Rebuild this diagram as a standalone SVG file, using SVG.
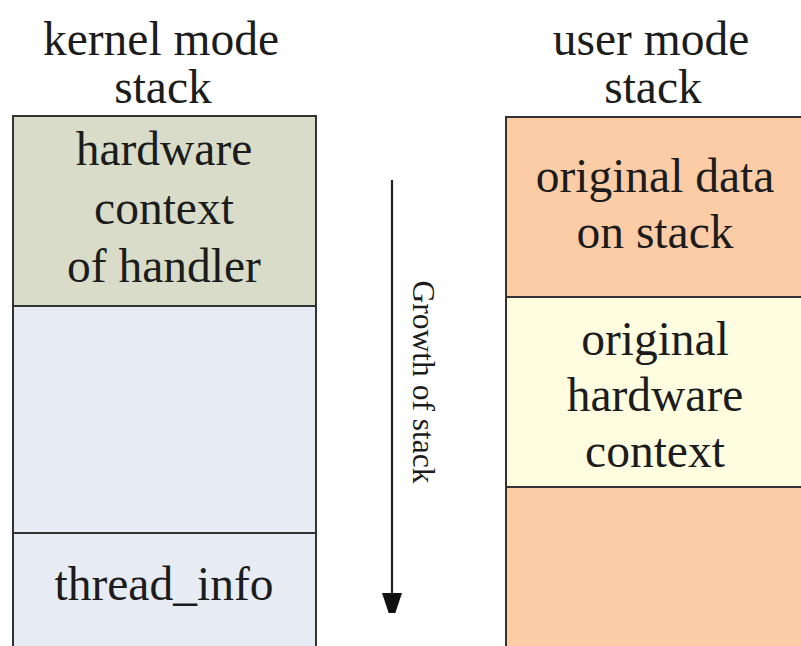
<svg xmlns="http://www.w3.org/2000/svg" width="801" height="646" viewBox="0 0 801 646">
  <style>
    .t { font-family: "Liberation Serif", "Times New Roman", serif; font-size: 47.5px; fill: #1c1c1c; text-anchor: middle; }
    .lbl { font-family: "Liberation Serif", "Times New Roman", serif; font-size: 31.5px; fill: #1c1c1c; text-anchor: middle; }
    .box { stroke: #333; stroke-width: 2; }
  </style>
  <defs>
    <marker id="arrowHead" markerUnits="userSpaceOnUse" markerWidth="20" markerHeight="30" refX="20" refY="10" orient="auto">
      <path d="M0,0 L30,10 L0,20 Z" fill="#111"/>
    </marker>
  </defs>
  <rect width="801" height="646" fill="#fff"/>

  <!-- column titles -->
  <g id="kernel-title">
    <text class="t" x="161" y="55">kernel mode</text>
    <text class="t" x="163" y="103">stack</text>
  </g>
  <g id="user-title">
    <text class="t" x="651" y="55">user mode</text>
    <text class="t" x="653" y="103">stack</text>
  </g>

  <!-- kernel mode stack -->
  <g id="hw-context-handler">
    <rect class="box" x="13" y="116" width="303" height="190" fill="#d8dcc9"/>
    <text class="t" x="164" y="165">hardware</text>
    <text class="t" x="164" y="224">context</text>
    <text class="t" x="164" y="282">of handler</text>
  </g>
  <g id="kernel-free">
    <rect class="box" x="13" y="306" width="303" height="227" fill="#e6ebf4"/>
  </g>
  <g id="thread-info">
    <rect class="box" x="13" y="533" width="303" height="130" fill="#e6ebf4"/>
    <text class="t" x="164" y="600">thread_info</text>
  </g>

  <!-- user mode stack -->
  <g id="original-data">
    <rect class="box" x="506" y="117" width="310" height="180" fill="#fccca7"/>
    <text class="t" x="655" y="192">original data</text>
    <text class="t" x="655" y="248">on stack</text>
  </g>
  <g id="original-hw-context">
    <rect class="box" x="506" y="297" width="310" height="190" fill="#fefde0"/>
    <text class="t" x="655" y="355">original</text>
    <text class="t" x="655" y="411">hardware</text>
    <text class="t" x="655" y="467">context</text>
  </g>
  <g id="user-below">
    <rect class="box" x="506" y="487" width="310" height="180" fill="#fccca7"/>
  </g>

  <!-- growth direction -->
  <g id="connectors">
    <line x1="392" y1="180" x2="392" y2="613" stroke="#222" stroke-width="2.2" marker-end="url(#arrowHead)"/>
  </g>
  <g id="growth-label">
    <text class="lbl" transform="translate(413 382) rotate(90)">Growth of stack</text>
  </g>
</svg>
